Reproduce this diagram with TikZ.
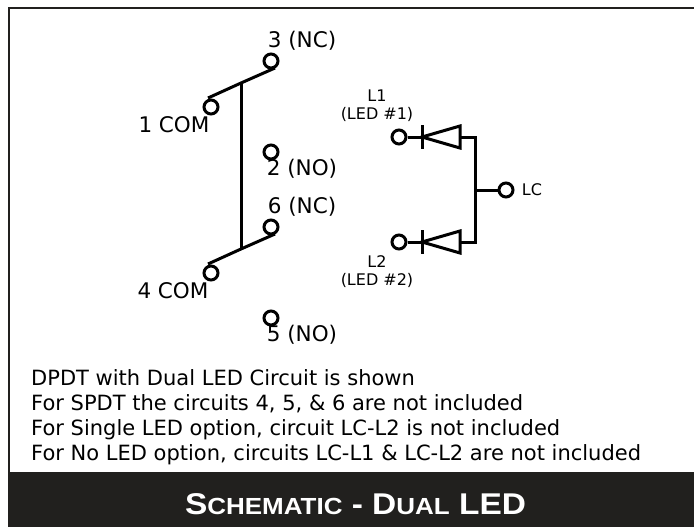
\documentclass[tikz,border=0pt]{standalone}
\usepackage{fontspec}
\usetikzlibrary{calc}
\setmainfont{DejaVu Sans}
\newfontfamily\titlefont[FakeStretch=1.115]{Liberation Sans}
\definecolor{banddark}{RGB}{33,32,30}
\tikzset{every picture/.append style={x=1pt, y=-1pt}}
\tikzset{
  terminal/.style={circle, draw, line width=3pt, inner sep=0pt, minimum size=14pt},
  wire/.style={line width=3pt},
  swlabel/.style={inner sep=0pt, font=\fontsize{21.5}{24}\selectfont},
  ledlabel/.style={inner sep=0pt, align=center, font=\fontsize{16}{18}\selectfont},
  note/.style={inner sep=0pt, anchor=base west, font=\fontsize{21}{25}\selectfont}
}

\begin{document}
\begin{tikzpicture}
  \useasboundingbox (0,0) rectangle (694,527);
  \fill[white] (0,0) rectangle (694,527);
  \fill[banddark] (8,7) rectangle (694,9.5);
  \fill[banddark] (8,7) rectangle (10,480);
  \fill[banddark] (8,472) rectangle (694,527);
  \node[inner sep=0pt, anchor=base, text=white, font=\titlefont\bfseries\fontsize{30}{32}\selectfont] (title) at (355.5,514)
    {S{\fontsize{23.3}{32}\selectfont CHEMATIC} - D{\fontsize{23.3}{32}\selectfont UAL} LED};

  % switch
  \node[terminal] (t3) at (271,61) {};
  \node[terminal] (t1) at (211,107) {};
  \node[terminal] (t2) at (271,152) {};
  \node[terminal] (t6) at (271,227) {};
  \node[terminal] (t4) at (211,273) {};
  \node[terminal] (t5) at (271,318) {};
  \coordinate (j1) at (241,83);
  \coordinate (j4) at (241,249);
  \coordinate (e1) at (208,98);
  \coordinate (e3) at (275,68);
  \coordinate (e4) at (208,264);
  \coordinate (e6) at (275,234);
  \draw[wire] (e1) -- (j1) -- (e3);
  \draw[wire] (e4) -- (j4) -- (e6);
  \draw[wire] (j1) -- (j4);
  \node[swlabel] (n3) at (302,41) {3 (NC)};
  \node[swlabel] (n1) at (174,125) {1 COM};
  \node[swlabel] (n2) at (302,169) {2 (NO)};
  \node[swlabel] (n6) at (302,207) {6 (NC)};
  \node[swlabel] (n4) at (173,291) {4 COM};
  \node[swlabel] (n5) at (302,335) {5 (NO)};

  % leds
  \node[terminal] (l1) at (399,137) {};
  \node[terminal] (l2) at (399,242) {};
  \node[terminal] (lc) at (506,190) {};
  \coordinate (a1) at (460,137);
  \coordinate (a2) at (460,242);
  \coordinate (k1) at (422,137);
  \coordinate (k2) at (422,242);
  \coordinate (bus1) at (475,137);
  \coordinate (bus2) at (475,242);
  \coordinate (busm) at (475,190);
  \draw[wire] (l1) -- (k1);
  \draw[wire] (l2) -- (k2);
  \draw[wire] (k1) ++(0,-12) -- ++(0,24);
  \draw[wire] (k2) ++(0,-12) -- ++(0,24);
  \draw[wire, line join=miter] ($(a1)+(0,-11)$) -- (k1) -- ($(a1)+(0,11)$) -- cycle;
  \draw[wire, line join=miter] ($(a2)+(0,-11)$) -- (k2) -- ($(a2)+(0,11)$) -- cycle;
  \draw[wire, line cap=rect] (a1) -- (bus1) -- (bus2) -- (a2);
  \draw[wire] (busm) -- (lc);
  \node[ledlabel] (nl1) at (377,106) {L1\\(LED \#1)};
  \node[ledlabel] (nl2) at (377,271.5) {L2\\(LED \#2)};
  \node[ledlabel] (nlc) at (532,190) {LC};

  % notes
  \node[note] (note1) at (31,385) {DPDT with Dual LED Circuit is shown};
  \node[note] (note2) at (31,410) {For SPDT the circuits 4, 5, \& 6 are not included};
  \node[note] (note3) at (31,435) {For Single LED option, circuit LC-L2 is not included};
  \node[note] (note4) at (31,460) {For No LED option, circuits LC-L1 \& LC-L2 are not included};
\end{tikzpicture}
\end{document}
